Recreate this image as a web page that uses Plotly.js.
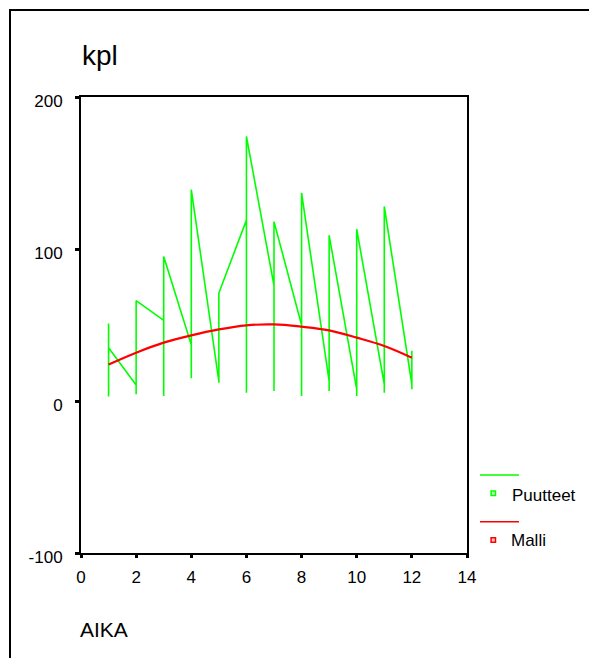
<!DOCTYPE html>
<html>
<head>
<meta charset="utf-8">
<script src="https://cdn.plot.ly/plotly-3.0.1.min.js"></script>
<style>
  html, body { margin: 0; padding: 0; background: #fff; }
  #wrap { position: relative; width: 589px; height: 658px; overflow: hidden; }
  #chart { width: 589px; height: 658px; }
  #frame { position: absolute; left: 9px; top: 9px; width: 700px; height: 700px;
           border-left: 2px solid #000; border-top: 2px solid #000; pointer-events: none; }
</style>
</head>
<body>
<div id="wrap">
  <div id="chart"></div>
  <div id="frame"></div>
</div>
<script>
// Observed series "Puutteet": three observations per AIKA value, in data order
var puutteetX = [1,1,1, 2,2,2, 3,3,3, 4,4,4, 5,5,5, 6,6,6, 7,7,7, 8,8,8, 9,9,9, 10,10,10, 11,11,11, 12,12,12];
var puutteetY = [51,3,35, 10.5,4.4,66, 53,3.3,95, 37,15,139, 13,12,71, 119,5.5,174,
                 76,6.6,118, 50,3.3,137, 13,6.6,109, 7.7,3.3,113, 11,5.5,128, 11,7.7,33];

// Model series "Malli"
var malliX = [1,2,3,4,5,6,7,8,9,10,11,12];
var malliY = [24,31.8,38.4,43.2,47.1,49.8,50.4,48.9,46.5,41.7,36.2,28.5];

var xTicks = [0,2,4,6,8,10,12,14];
var yTicks = [-100,0,100,200];
var seriesNames = ['Puutteet','Malli'];
var titleText = 'kpl';
var xTitleText = 'AIKA';

var FONT = '"Liberation Sans Narrow", "Arial Narrow", "Liberation Sans", Arial, sans-serif';
var GREEN = '#00ff00', RED = '#ff0000';

// plot-area pixel geometry helpers (for legend placement)
var L = 81, R = 467, T = 97, B = 553, W = 589, H = 658;
function px(x) { return (x - L) / (R - L); }
function py(y) { return (B - y) / (B - T); }

var traces = [
  { x: puutteetX, y: puutteetY, name: seriesNames[0], type: 'scatter', mode: 'lines',
    line: { color: GREEN, width: 1.6 }, showlegend: false, hoverinfo: 'x+y' },
  { x: malliX, y: malliY, name: seriesNames[1], type: 'scatter', mode: 'lines',
    line: { color: RED, width: 2.2, shape: 'spline' }, showlegend: false, hoverinfo: 'x+y' }
];

var sq = 2.2;
var layout = {
  width: W, height: H,
  margin: { l: L, r: W - R, t: T, b: H - B, pad: 0 },
  paper_bgcolor: '#fff', plot_bgcolor: '#fff',
  showlegend: false,
  font: { family: FONT, size: 17, color: '#000' },
  title: { text: titleText, font: { family: FONT, size: 28, color: '#000' },
           xref: 'paper', x: px(82), xanchor: 'left',
           yref: 'container', y: 1 - 55 / H, yanchor: 'middle' },
  xaxis: { range: [0, 14], tickvals: xTicks, ticktext: xTicks.map(String),
           showgrid: false, zeroline: false, showline: true, mirror: true,
           linecolor: '#000', linewidth: 2, ticks: 'outside', ticklen: 3, tickwidth: 3,
           tickcolor: '#000', tickfont: { family: FONT, size: 17 }, ticklabelstandoff: 5 },
  yaxis: { range: [-100, 200], tickvals: yTicks, ticktext: yTicks.map(String),
           showgrid: false, zeroline: false, showline: true, mirror: true,
           linecolor: '#000', linewidth: 2, ticks: 'outside', ticklen: 4, tickwidth: 3,
           tickcolor: '#000', tickfont: { family: FONT, size: 17 },
           ticklabelstandoff: 9, ticklabelshift: 4 },
  shapes: [
    { type: 'line', xref: 'paper', yref: 'paper', x0: px(480), x1: px(519), y0: py(475), y1: py(475),
      line: { color: GREEN, width: 1.6 } },
    { type: 'rect', xref: 'paper', yref: 'paper', x0: px(493.3 - sq), x1: px(493.3 + sq),
      y0: py(493.3 + sq), y1: py(493.3 - sq), line: { color: GREEN, width: 1.5 }, fillcolor: '#ccffcc' },
    { type: 'line', xref: 'paper', yref: 'paper', x0: px(480), x1: px(519), y0: py(521.7), y1: py(521.7),
      line: { color: RED, width: 1.6 } },
    { type: 'rect', xref: 'paper', yref: 'paper', x0: px(493.3 - sq), x1: px(493.3 + sq),
      y0: py(540 + sq), y1: py(540 - sq), line: { color: RED, width: 1.5 }, fillcolor: '#ffcccc' }
  ],
  annotations: [
    { text: seriesNames[0], xref: 'paper', yref: 'paper', x: px(510), y: py(495),
      xanchor: 'left', yanchor: 'middle', showarrow: false, font: { family: FONT, size: 17 } },
    { text: seriesNames[1], xref: 'paper', yref: 'paper', x: px(509), y: py(540),
      xanchor: 'left', yanchor: 'middle', showarrow: false, font: { family: FONT, size: 17 } },
    { text: xTitleText, xref: 'paper', yref: 'paper', x: px(78), y: py(629),
      xanchor: 'left', yanchor: 'middle', showarrow: false, font: { family: FONT, size: 21 } }
  ]
};

Plotly.newPlot('chart', traces, layout, { displayModeBar: false, staticPlot: true });
</script>
</body>
</html>
